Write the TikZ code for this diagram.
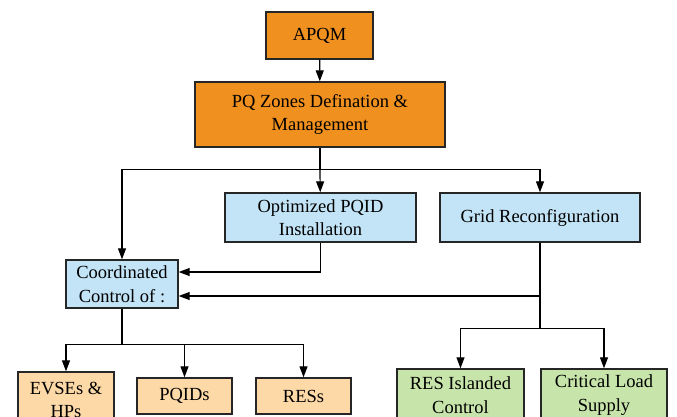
\documentclass[tikz,border=0pt]{standalone}
\usepackage{fontspec}
\setmainfont{Liberation Serif}
\usetikzlibrary{arrows.meta}
\definecolor{apqmorange}{HTML}{F0901F}
\definecolor{ctrlblue}{HTML}{C2E4F6}
\definecolor{devpeach}{HTML}{FDD9A8}
\definecolor{gridgreen}{HTML}{C7E5AA}
\begin{document}
\begin{tikzpicture}[x=1pt, y=-1pt, line width=1.2pt, >={Triangle[length=11pt,width=8pt]},
	box/.style={draw=black!85, line width=1.4pt, align=center, inner sep=0pt,
		font=\fontsize{18.5}{23.5}\selectfont},
	orangebox/.style={box, fill=apqmorange},
	bluebox/.style={box, fill=ctrlblue},
	peachbox/.style={box, fill=devpeach},
	greenbox/.style={box, fill=gridgreen}]
	\useasboundingbox (0,0) rectangle (677,416);
	\node[orangebox, minimum width=107pt, minimum height=47pt] (apqm)     at (319.5,35.5) {APQM};
	\node[orangebox, minimum width=250pt, minimum height=65pt] (zones)    at (320,114.5)  {PQ Zones Defination \&\\Management};
	\node[bluebox,   minimum width=191pt, minimum height=49pt] (pqid)     at (320.5,217.5) {Optimized PQID\\Installation};
	\node[bluebox,   minimum width=200pt, minimum height=49pt] (grid)     at (540,217.5)  {Grid Reconfiguration};
	\node[bluebox,   minimum width=112pt, minimum height=48pt] (coord)    at (122,284)    {Coordinated\\Control of :};
	\node[peachbox,  minimum width=96pt,  minimum height=56pt] (evse)     at (66,400)     {EVSEs \&\\HPs};
	\node[peachbox,  minimum width=95pt,  minimum height=36pt] (pqids)    at (184.5,396)  {PQIDs};
	\node[peachbox,  minimum width=95pt,  minimum height=36pt] (ress)     at (303.5,396)  {RESs};
	\node[greenbox,  minimum width=127pt, minimum height=52pt] (island)   at (460.5,395)  {RES Islanded\\Control};
	\node[greenbox,  minimum width=126pt, minimum height=52pt] (critical) at (604,395)    {Critical Load\\Supply};
	%top
	\draw[->] (apqm) -- (zones);
	\draw (zones.south) -- ++(0,22) coordinate (split);
	\draw[->] (split) -- (pqid);
	\draw[->] (split) -| (grid);
	\draw[->] (split) -| (coord);
	%feedback
	\draw[->] (pqid.south) |- ([yshift=12pt]coord.east);
	\draw[->] (grid.south) |- ([yshift=-12pt]coord.east);
	\draw (grid.south) -- ++(0,86) coordinate (gsplit);
	\draw[->] (gsplit) -| (island);
	\draw[->] (gsplit) -| (critical);
	%devices
	\draw (coord.south) -- ++(0,36) coordinate (csplit);
	\draw[->] (csplit) -| (evse);
	\draw[->] (csplit) -| (pqids);
	\draw[->] (csplit) -| (ress);
\end{tikzpicture}
\end{document}
